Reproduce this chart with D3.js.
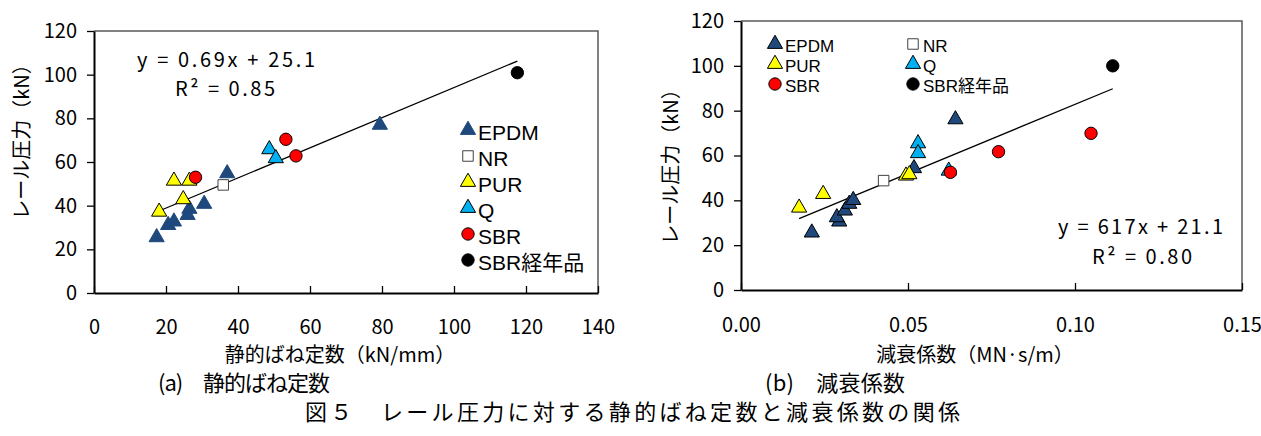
<!DOCTYPE html>
<html>
<head>
<meta charset="utf-8">
<script src="https://cdn.jsdelivr.net/npm/d3@7"></script>
<style>
body { margin: 0; background: #fff; }
svg text { font-family: "Noto Sans CJK JP", sans-serif; fill: #000; }
svg text.leg { font-family: "Liberation Sans Narrow", "Liberation Sans", "Noto Sans CJK JP", sans-serif; }
</style>
</head>
<body>
<svg id="chart" width="1261" height="436"></svg>
<script>
// series order = legend order = draw order
var seriesNames = ["EPDM", "NR", "PUR", "Q", "SBR", "SBR経年品"];

// (a) static spring constant (kN/mm) vs rail force (kN)
var springK = [
	[17.4, 20.6, 22.2, 26.0, 26.5, 30.6, 37.0, 79.4],
	[35.9],
	[18.1, 22.2, 24.8, 26.5],
	[48.7, 50.5],
	[28.2, 53.3, 56.1],
	[117.6]
];
var springLoad = [
	[25.5, 31.1, 32.7, 35.7, 38.5, 40.8, 54.8, 77.0],
	[49.5],
	[37.2, 51.4, 42.9, 51.4],
	[65.8, 61.7],
	[53.0, 70.4, 62.8],
	[100.9]
];

// (b) damping coefficient (MN·s/m) vs rail force (kN)
var dampC = [
	[0.0212, 0.0294, 0.0287, 0.0311, 0.0324, 0.0336, 0.0518, 0.0642],
	[0.0427],
	[0.0174, 0.0246, 0.0494, 0.0504],
	[0.0530, 0.0530, 0.0622],
	[0.0627, 0.0771, 0.1048],
	[0.1113]
];
var dampLoad = [
	[25.6, 30.5, 32.4, 35.4, 38.4, 40.1, 54.3, 76.1],
	[48.8],
	[36.7, 42.8, 51.0, 51.6],
	[65.4, 61.0, 53.2],
	[52.5, 61.7, 69.9],
	[100.0]
];

// linear fits [slope, intercept]
var fitA = [0.69, 25.1];
var fitB = [617, 21.1];

var xTicksA = [0, 20, 40, 60, 80, 100, 120, 140];
var xTicksB = [0, 0.05, 0.10, 0.15];
var yTicks = [0, 20, 40, 60, 80, 100, 120];

var shapes = [d3.symbolTriangle, d3.symbolSquare, d3.symbolTriangle, d3.symbolTriangle, d3.symbolCircle, d3.symbolCircle];
var fills = ["#1F497D", "#ffffff", "#FFFF00", "#00B0F0", "#FF0000", "#000000"];
var sizes = [100, 110, 100, 100, 120, 120];

var svg = d3.select("#chart");
svg.append("rect").attr("width", 1261).attr("height", 436).attr("fill", "#fff");

function edge(i, o) {
	if (i == 0 && !o.epdmEdge) return fills[0];
	return i == 1 ? "#404040" : "#000";
}

function panel(o) {
	var x = d3.scaleLinear().domain(o.xDomain).range([o.left, o.right]);
	var y = d3.scaleLinear().domain([0, 120]).range([o.bottom, o.top]);
	var g = svg.append("g");

	// frame top/right
	g.append("path")
		.attr("d", "M" + o.left + "," + o.top + "H" + o.right + "V" + o.bottom)
		.attr("fill", "none").attr("stroke", "#595959").attr("stroke-width", 1.5);

	var ya = g.append("g")
		.attr("transform", "translate(" + o.left + ",0)")
		.call(d3.axisLeft(y).tickValues(yTicks).tickSizeInner(7).tickSizeOuter(0).tickPadding(10));
	var xa = g.append("g")
		.attr("transform", "translate(0," + o.bottom + ")")
		.call(d3.axisBottom(x).tickValues(o.xTicks).tickFormat(o.fmt).tickSizeInner(-7).tickSizeOuter(0).tickPadding(o.xPad));
	[ya, xa].forEach(function(a) {
		a.select(".domain").attr("stroke", "#000").attr("stroke-width", 2);
		a.selectAll(".tick line").attr("stroke", "#000").attr("stroke-width", 1.3);
		a.selectAll("text").style("font-size", "20px").attr("fill", "#000");
	});

	// trend line over data range
	var ext = d3.extent(d3.merge(o.xs));
	g.append("line")
		.attr("x1", x(ext[0])).attr("y1", y(o.fit[0] * ext[0] + o.fit[1]))
		.attr("x2", x(ext[1])).attr("y2", y(o.fit[0] * ext[1] + o.fit[1]))
		.attr("stroke", "#000").attr("stroke-width", 1.3);

	// points
	seriesNames.forEach(function(name, i) {
		var pts = o.xs[i].map(function(v, j) { return [v, o.ys[i][j]]; });
		g.selectAll(".s" + i)
			.data(pts)
		  .enter().append("path")
			.attr("class", "s" + i)
			.attr("transform", function(d) { return "translate(" + x(d[0]) + "," + y(d[1]) + ")"; })
			.attr("d", d3.symbol().type(shapes[i]).size(sizes[i]))
			.attr("fill", fills[i])
			.attr("stroke", edge(i, o))
			.attr("stroke-width", 1);
	});

	// legend
	var lg = g.append("g");
	seriesNames.forEach(function(name, i) {
		var p = o.legendPos(i);
		lg.append("path")
			.attr("transform", "translate(" + p[0] + "," + p[1] + ")")
			.attr("d", d3.symbol().type(shapes[i]).size(sizes[i]))
			.attr("fill", fills[i])
			.attr("stroke", edge(i, o));
		lg.append("text")
			.attr("class", "leg")
			.attr("x", p[0] + 10).attr("y", p[1] + 2)
			.attr("dominant-baseline", "central")
			.style("font-size", o.legendFont)
			.text(name);
	});

	// equation
	g.append("text").attr("x", o.eq[0]).attr("y", o.eq[1])
		.attr("dominant-baseline", "central")
		.attr("textLength", o.eq[2]).attr("lengthAdjust", "spacing")
		.style("font-size", "20px")
		.text(o.eqText);
	g.append("text").attr("x", o.r2[0]).attr("y", o.r2[1])
		.attr("dominant-baseline", "central")
		.attr("textLength", o.r2[2]).attr("lengthAdjust", "spacing")
		.style("font-size", "20px")
		.text(o.r2Text);

	// axis titles
	g.append("text")
		.attr("x", o.xTitle[0]).attr("y", o.xTitle[1])
		.attr("text-anchor", "middle").attr("dominant-baseline", "central")
		.style("font-size", "20px")
		.text(o.xLabel);
	g.append("text")
		.attr("transform", "translate(" + o.yTitle[0] + "," + o.yTitle[1] + ") rotate(-90)")
		.attr("text-anchor", "middle").attr("dominant-baseline", "central")
		.style("font-size", "20px")
		.text("レール圧力（kN）");
}

panel({
	left: 94, right: 598, top: 31, bottom: 293,
	xDomain: [0, 140], xTicks: xTicksA, fmt: d3.format("d"), xPad: 27,
	xs: springK, ys: springLoad, fit: fitA, epdmEdge: false,
	legendPos: function(i) { return [468, 130 + 26 * i]; }, legendFont: "21px",
	eq: [137, 58, 178], eqText: "y = 0.69x + 25.1",
	r2: [175, 87, 100], r2Text: "R² = 0.85",
	xTitle: [340, 353], xLabel: "静的ばね定数（kN/mm）",
	yTitle: [20, 137]
});

panel({
	left: 741, right: 1242, top: 21, bottom: 290,
	xDomain: [0, 0.15], xTicks: xTicksB, fmt: d3.format(".2f"), xPad: 28,
	xs: dampC, ys: dampLoad, fit: fitB, epdmEdge: true,
	legendPos: function(i) { return [[775, 913][i % 2], 44 + 20 * Math.floor(i / 2)]; }, legendFont: "17px",
	eq: [1058, 225, 165], eqText: "y = 617x + 21.1",
	r2: [1092, 255, 100], r2Text: "R² = 0.80",
	xTitle: [975, 353], xLabel: "減衰係数（MN·s/m）",
	yTitle: [669, 162]
});

// captions
var caps = [
	{ t: "(a)　静的ばね定数", x: 158, y: 381, w: 172 },
	{ t: "(b)　減衰係数", x: 765, y: 381, w: 140 },
	{ t: "図５　レール圧力に対する静的ばね定数と減衰係数の関係", x: 305, y: 410, w: 655 }
];
caps.forEach(function(c) {
	svg.append("text")
		.attr("x", c.x).attr("y", c.y)
		.attr("dominant-baseline", "central")
		.attr("textLength", c.w).attr("lengthAdjust", "spacing")
		.style("font-size", "22px")
		.text(c.t);
});
</script>
</body>
</html>
